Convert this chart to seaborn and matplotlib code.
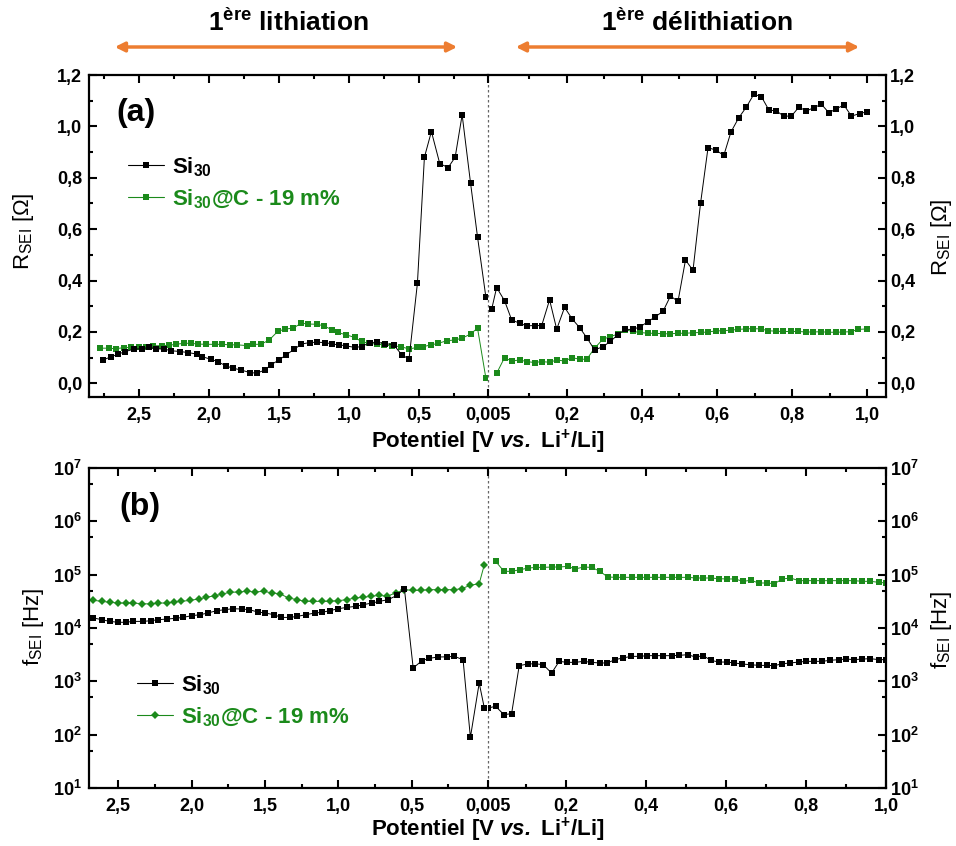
"""
R_SEI and f_SEI of Si30 vs Si30@C during the 1st lithiation / delithiation
"""

import numpy as np
import pandas as pd
import seaborn as sns
import matplotlib.pyplot as plt
from matplotlib.lines import Line2D
from matplotlib.patches import FancyArrowPatch
from matplotlib.ticker import FixedLocator, MultipleLocator, FuncFormatter, LogLocator, NullFormatter

# ---- data: panel (a), R_SEI [Ohm] ----
V_A_LITH_SI = [2.76, 2.70, 2.65, 2.60, 2.54, 2.48, 2.43, 2.38, 2.32, 2.27, 2.21, 2.15, 2.09,
               2.05, 1.99, 1.94, 1.88, 1.83, 1.77, 1.71, 1.66, 1.60, 1.56, 1.50, 1.45, 1.39,
               1.34, 1.28, 1.23, 1.17, 1.12, 1.07, 1.02, 0.96, 0.91, 0.85, 0.80, 0.74, 0.68,
               0.62, 0.57, 0.51, 0.46, 0.41, 0.35, 0.29, 0.24, 0.19, 0.13, 0.08, 0.02]
R_A_LITH_SI = [0.091, 0.104, 0.114, 0.124, 0.133, 0.135, 0.140, 0.135, 0.133, 0.127, 0.124,
               0.120, 0.114, 0.104, 0.094, 0.085, 0.068, 0.059, 0.052, 0.042, 0.040, 0.052,
               0.072, 0.091, 0.111, 0.133, 0.153, 0.159, 0.160, 0.159, 0.153, 0.150, 0.146,
               0.140, 0.143, 0.159, 0.160, 0.155, 0.150, 0.110, 0.095, 0.39, 0.88, 0.98,
               0.855, 0.84, 0.88, 1.045, 0.78, 0.57, 0.335]
V_A_LITH_SIC = [2.78, 2.72, 2.67, 2.61, 2.56, 2.50, 2.45, 2.40, 2.34, 2.29, 2.24, 2.18, 2.13,
                2.08, 2.02, 1.96, 1.91, 1.85, 1.80, 1.73, 1.69, 1.63, 1.57, 1.51, 1.46, 1.40,
                1.34, 1.29, 1.23, 1.18, 1.12, 1.08, 1.02, 0.96, 0.91, 0.86, 0.80, 0.75, 0.69,
                0.63, 0.57, 0.51, 0.47, 0.41, 0.36, 0.30, 0.24, 0.19, 0.13, 0.08, 0.02]
R_A_LITH_SIC = [0.137, 0.137, 0.135, 0.139, 0.140, 0.143, 0.143, 0.146, 0.147, 0.148, 0.152,
                0.156, 0.156, 0.153, 0.152, 0.152, 0.152, 0.150, 0.150, 0.147, 0.152, 0.152,
                0.169, 0.202, 0.211, 0.215, 0.234, 0.231, 0.230, 0.224, 0.208, 0.198, 0.189,
                0.179, 0.163, 0.156, 0.153, 0.150, 0.146, 0.143, 0.134, 0.140, 0.143, 0.150,
                0.156, 0.166, 0.169, 0.176, 0.192, 0.215, 0.020]
V_A_DELI_SI = [0.00, 0.013, 0.034, 0.053, 0.074, 0.093, 0.114, 0.133, 0.154, 0.173, 0.194,
               0.214, 0.234, 0.253, 0.274, 0.296, 0.316, 0.336, 0.356, 0.376, 0.396, 0.416,
               0.436, 0.456, 0.476, 0.496, 0.516, 0.536, 0.556, 0.576, 0.597, 0.618, 0.637,
               0.658, 0.678, 0.698, 0.718, 0.738, 0.758, 0.778, 0.798, 0.818, 0.838, 0.858,
               0.878, 0.898, 0.918, 0.938, 0.958, 0.980, 1.000]
R_A_DELI_SI = [0.29, 0.373, 0.322, 0.247, 0.234, 0.224, 0.225, 0.225, 0.325, 0.211, 0.296,
               0.251, 0.217, 0.178, 0.130, 0.143, 0.163, 0.19, 0.21, 0.21, 0.221, 0.24,
               0.26, 0.28, 0.34, 0.319, 0.48, 0.44, 0.70, 0.917, 0.908, 0.887, 0.978,
               1.034, 1.075, 1.125, 1.116, 1.064, 1.06, 1.04, 1.04, 1.075, 1.06, 1.073,
               1.086, 1.053, 1.069, 1.083, 1.04, 1.05, 1.057]
V_A_DELI_SIC = [0.013, 0.034, 0.053, 0.074, 0.093, 0.114, 0.133, 0.154, 0.173, 0.194, 0.214,
                0.234, 0.253, 0.274, 0.296, 0.316, 0.336, 0.356, 0.376, 0.396, 0.416, 0.436,
                0.456, 0.476, 0.496, 0.516, 0.536, 0.556, 0.576, 0.596, 0.616, 0.636, 0.656,
                0.676, 0.696, 0.716, 0.736, 0.756, 0.776, 0.796, 0.816, 0.836, 0.856, 0.876,
                0.896, 0.916, 0.936, 0.956, 0.976, 1.000]
R_A_DELI_SIC = [0.039, 0.100, 0.087, 0.091, 0.085, 0.081, 0.085, 0.082, 0.091, 0.087, 0.100,
                0.094, 0.094, 0.137, 0.172, 0.182, 0.192, 0.208, 0.202, 0.198, 0.195, 0.195,
                0.193, 0.193, 0.195, 0.195, 0.197, 0.198, 0.200, 0.204, 0.205, 0.207, 0.210,
                0.212, 0.213, 0.212, 0.205, 0.203, 0.202, 0.202, 0.202, 0.200, 0.200, 0.201,
                0.199, 0.199, 0.200, 0.201, 0.210, 0.212]

# ---- data: panel (b), f_SEI [Hz] ----
V_B_LITH_SI = [2.67, 2.61, 2.56, 2.50, 2.45, 2.40, 2.33, 2.28, 2.23, 2.17, 2.11, 2.06, 2.00,
               1.94, 1.89, 1.83, 1.77, 1.72, 1.66, 1.61, 1.55, 1.50, 1.44, 1.39, 1.33, 1.28,
               1.22, 1.16, 1.11, 1.06, 1.00, 0.94, 0.88, 0.83, 0.77, 0.72, 0.66, 0.60, 0.55,
               0.49, 0.43, 0.38, 0.32, 0.26, 0.21, 0.15, 0.10, 0.04, 0.005]
F_B_LITH_SI = [15400, 14300, 13300, 12800, 12800, 13300, 13300, 13700, 14300, 14700, 15200,
               15800, 17000, 17800, 19100, 21100, 22100, 23000, 22700, 22100, 20000, 19100,
               17800, 15800, 15800, 16500, 17800, 19100, 19700, 21100, 23000, 24400, 25500,
               27400, 29400, 31600, 34000, 41000, 54700, 1780, 2440, 2700, 2860, 2880, 2940,
               2550, 89, 930, 316]
V_B_LITH_SIC = [2.67, 2.61, 2.56, 2.50, 2.45, 2.40, 2.34, 2.28, 2.23, 2.17, 2.12, 2.07, 2.01,
                1.95, 1.90, 1.84, 1.79, 1.74, 1.68, 1.62, 1.57, 1.51, 1.45, 1.40, 1.34, 1.28,
                1.23, 1.17, 1.11, 1.06, 1.00, 0.94, 0.89, 0.83, 0.78, 0.72, 0.67, 0.61, 0.55,
                0.49, 0.44, 0.38, 0.32, 0.27, 0.21, 0.16, 0.10, 0.04, 0.005]
F_B_LITH_SIC = [33000, 31600, 30300, 29400, 29400, 29400, 28600, 28200, 29400, 29400, 30700,
                31600, 33000, 35000, 37600, 40400, 43400, 46700, 47300, 48700, 47300, 48700,
                45300, 44000, 36500, 34000, 31600, 31600, 31600, 31600, 32600, 34000, 36500,
                37600, 39200, 41000, 39200, 45300, 52300, 50800, 50800, 52300, 52300, 52300,
                52300, 54700, 63100, 67800, 154000]
V_B_DELI_SI = [0.005, 0.024, 0.045, 0.064, 0.083, 0.104, 0.123, 0.143, 0.164, 0.183, 0.202,
               0.223, 0.244, 0.263, 0.284, 0.303, 0.323, 0.342, 0.363, 0.384, 0.403, 0.423,
               0.443, 0.464, 0.483, 0.504, 0.524, 0.543, 0.562, 0.582, 0.602, 0.621, 0.641,
               0.662, 0.682, 0.702, 0.721, 0.741, 0.761, 0.782, 0.801, 0.819, 0.840, 0.861,
               0.882, 0.900, 0.920, 0.941, 0.961, 0.982, 1.000]
F_B_DELI_SI = [316, 340, 237, 248, 1970, 2110, 2140, 2050, 1430, 2370, 2270, 2270, 2370, 2270,
               2210, 2210, 2550, 2740, 2940, 2940, 3030, 3030, 3030, 3030, 3070, 3160, 2860,
               3030, 2480, 2300, 2300, 2210, 2110, 2050, 1990, 1990, 1970, 2140, 2210, 2300,
               2370, 2370, 2370, 2480, 2550, 2620, 2550, 2620, 2660, 2550, 2550]
V_B_DELI_SIC = [0.024, 0.045, 0.064, 0.085, 0.106, 0.125, 0.143, 0.164, 0.183, 0.204, 0.223,
                0.244, 0.264, 0.285, 0.304, 0.325, 0.343, 0.364, 0.384, 0.403, 0.423, 0.443,
                0.464, 0.483, 0.504, 0.525, 0.543, 0.562, 0.582, 0.602, 0.623, 0.642, 0.662,
                0.682, 0.702, 0.721, 0.741, 0.761, 0.782, 0.801, 0.819, 0.840, 0.861, 0.882,
                0.900, 0.920, 0.941, 0.961, 0.982, 1.000]
F_B_DELI_SIC = [178000, 115500, 115500, 124000, 133000, 137000, 137000, 139000, 139000, 143000,
                128000, 139000, 137000, 115500, 90400, 89100, 89100, 89100, 89100, 89100,
                89100, 89100, 89100, 89100, 89100, 86600, 86600, 86600, 84100, 83000, 83000,
                75000, 78300, 69800, 69800, 67800, 83000, 86600, 77200, 77200, 77200, 77200,
                77200, 77200, 77200, 77200, 75000, 75000, 71800, 69800]

LABEL_SI = r'Si$_{\mathbf{30}}$'
LABEL_SIC = r'Si$_{\mathbf{30}}$@C - 19 m%'
XLABEL = r'Potentiel [V $\mathbfit{vs.}$ Li$^{\mathbf{+}}$/Li]'
YLABEL_A = r'R$_{\mathregular{SEI}}$ [Ω]'
YLABEL_B = r'f$_{\mathregular{SEI}}$ [Hz]'

BLACK = '#000000'
GREEN = '#1b8a1b'
ORANGE = '#ED7D31'

# ---- style ----
sns.set_theme(style='ticks')
plt.rcParams['font.family'] = ['Liberation Sans', 'DejaVu Sans']
plt.rcParams['font.weight'] = 'bold'
plt.rcParams['axes.labelweight'] = 'bold'
plt.rcParams['text.color'] = 'black'
plt.rcParams['axes.labelcolor'] = 'black'
plt.rcParams['axes.edgecolor'] = 'black'
plt.rcParams['xtick.color'] = 'black'
plt.rcParams['ytick.color'] = 'black'
plt.rcParams['mathtext.fontset'] = 'custom'
plt.rcParams['mathtext.rm'] = 'Liberation Sans'
plt.rcParams['mathtext.bf'] = 'Liberation Sans:bold'
plt.rcParams['mathtext.it'] = 'Liberation Sans:italic'
plt.rcParams['mathtext.bfit'] = 'Liberation Sans:italic:bold'

W, H = 956, 846
fig = plt.figure(figsize=(W / 100, H / 100), dpi=100)


def frac(x0, y_top, x1, y_bot):
    return [x0 / W, 1 - y_bot / H, (x1 - x0) / W, (y_bot - y_top) / H]


def fx(px):
    return px / W


def fy(py):
    return 1 - py / H


ax_a1 = fig.add_axes(frac(89, 75, 488, 397))
ax_a2 = fig.add_axes(frac(488, 75, 886, 397))
ax_b1 = fig.add_axes(frac(89, 468, 488, 788))
ax_b2 = fig.add_axes(frac(488, 468, 886, 788))


def draw(ax, x, y, color, marker, ms):
    df = pd.DataFrame({'V': x, 'y': y})
    sns.lineplot(data=df, x='V', y='y', ax=ax, color=color, marker=marker, markersize=ms,
                 markeredgewidth=0, linewidth=0.7, estimator=None, sort=False)


# panel (a)
draw(ax_a1, V_A_LITH_SIC, R_A_LITH_SIC, GREEN, 's', 5)
draw(ax_a1, V_A_LITH_SI, R_A_LITH_SI, BLACK, 's', 5)
draw(ax_a2, V_A_DELI_SIC, R_A_DELI_SIC, GREEN, 's', 5)
draw(ax_a2, V_A_DELI_SI, R_A_DELI_SI, BLACK, 's', 5)
# panel (b)
draw(ax_b1, V_B_LITH_SIC, F_B_LITH_SIC, GREEN, 'D', 4)
draw(ax_b1, V_B_LITH_SI, F_B_LITH_SI, BLACK, 's', 5)
draw(ax_b2, V_B_DELI_SIC, F_B_DELI_SIC, GREEN, 's', 5)
draw(ax_b2, V_B_DELI_SI, F_B_DELI_SI, BLACK, 's', 5)

comma1 = FuncFormatter(lambda v, p: f'{v:.1f}'.replace('.', ','))
pow10 = FuncFormatter(lambda v, p: r'$\mathbf{10^{%d}}$' % round(np.log10(v)))

ax_a1.set_xlim(2.86, 0.005)
ax_a2.set_xlim(-0.01, 1.05)
ax_b1.set_xlim(2.70, -0.02)
ax_b2.set_xlim(0.005, 1.0)
for ax in (ax_a1, ax_a2):
    ax.set_ylim(-0.053, 1.2)
    ax.yaxis.set_major_locator(MultipleLocator(0.2))
    ax.yaxis.set_minor_locator(MultipleLocator(0.1))
    ax.yaxis.set_major_formatter(comma1)
for ax in (ax_b1, ax_b2):
    ax.set_yscale('log')
    ax.set_ylim(10, 1e7)
    ax.yaxis.set_major_locator(LogLocator(base=10, numticks=10))
    ax.yaxis.set_minor_locator(LogLocator(base=10, subs=[5], numticks=10))
    ax.yaxis.set_minor_formatter(NullFormatter())
    ax.yaxis.set_major_formatter(pow10)

for ax, minors in ((ax_a1, [2.75, 2.25, 1.75, 1.25, 0.75, 0.25]),
                   (ax_b1, [2.25, 1.75, 1.25, 0.75, 0.25])):
    ax.xaxis.set_major_locator(FixedLocator([2.5, 2.0, 1.5, 1.0, 0.5]))
    ax.xaxis.set_minor_locator(FixedLocator(minors))
    ax.xaxis.set_major_formatter(comma1)
    ax.spines['right'].set_visible(False)
    ax.tick_params(which='both', direction='in', top=True, right=False, left=True,
                   labelsize=13, width=1.5)
    ax.tick_params(axis='y', pad=5)
for ax in (ax_a2, ax_b2):
    x0 = ax.get_xlim()[0]
    ax.xaxis.set_major_locator(FixedLocator([x0, 0.2, 0.4, 0.6, 0.8, 1.0]))
    ax.xaxis.set_minor_locator(FixedLocator([0.1, 0.3, 0.5, 0.7, 0.9]))
    ax.xaxis.set_major_formatter(FuncFormatter(
        lambda v, p, x0=x0: '0,005' if abs(v - x0) < 1e-9 else f'{v:.1f}'.replace('.', ',')))
    ax.spines['left'].set_visible(False)
    ax.yaxis.tick_right()
    ax.tick_params(which='both', direction='in', top=True, right=True, left=False,
                   labelsize=13, width=1.5)
    ax.tick_params(axis='y', pad=3)
    ax.axvline(x0, color='#666666', lw=0.9, ls=(0, (2, 2)), clip_on=False, zorder=0)
for ax in (ax_a1, ax_a2, ax_b1, ax_b2):
    ax.tick_params(which='major', length=6)
    ax.tick_params(which='minor', length=3)
    ax.tick_params(axis='x', pad=7)
    ax.set_xlabel('')
    ax.set_ylabel('')
    for s in ax.spines.values():
        s.set_linewidth(1.6)

# axis labels
ylab_kw = dict(fontsize=16, fontweight='normal', rotation=90, ha='center', va='center')
fig.text(fx(24), fy(231), YLABEL_A, **ylab_kw)
fig.text(fx(942), fy(237), YLABEL_A, **ylab_kw)
fig.text(fx(33), fy(627), YLABEL_B, **ylab_kw)
fig.text(fx(942), fy(630), YLABEL_B, **ylab_kw)

fig.text(fx(488), fy(442), XLABEL, ha='center', va='center', fontsize=16)
fig.text(fx(488), fy(830), XLABEL, ha='center', va='center', fontsize=16)

# panel letters
fig.text(fx(136), fy(113), '(a)', ha='center', va='center', fontsize=23)
fig.text(fx(140), fy(507), '(b)', ha='center', va='center', fontsize=23)

# legends
for ax, mk2, anchor in ((ax_a1, 's', (128, 155)), (ax_b1, 'D', (137, 673))):
    handles = [Line2D([], [], color=BLACK, marker='s', markersize=5, markeredgewidth=0, lw=0.8),
               Line2D([], [], color=GREEN, marker=mk2, markersize=4.5 if mk2 == 'D' else 5,
                      markeredgewidth=0, lw=0.8)]
    leg = ax.legend(handles, [LABEL_SI, LABEL_SIC], loc='upper left',
                    bbox_to_anchor=(fx(anchor[0]), fy(anchor[1])),
                    bbox_transform=fig.transFigure, frameon=False, fontsize=16,
                    handlelength=1.6, handletextpad=0.4, labelspacing=0.4,
                    borderpad=0, borderaxespad=0)
    leg.get_texts()[0].set_color(BLACK)
    leg.get_texts()[1].set_color(GREEN)

# top annotations
fig.text(fx(288), fy(22), r'1$^{\mathbf{ère}}$ lithiation', ha='center', va='center',
         fontsize=19)
fig.text(fx(697), fy(22), r'1$^{\mathbf{ère}}$ délithiation', ha='center', va='center',
         fontsize=19)
for x0, x1 in ((112, 460), (513, 862)):
    fig.add_artist(FancyArrowPatch((fx(x0), fy(47)), (fx(x1), fy(47)),
                                   transform=fig.transFigure, arrowstyle='<|-|>',
                                   mutation_scale=14, color=ORANGE, lw=2.5))

fig.savefig('out.png', dpi=100)
